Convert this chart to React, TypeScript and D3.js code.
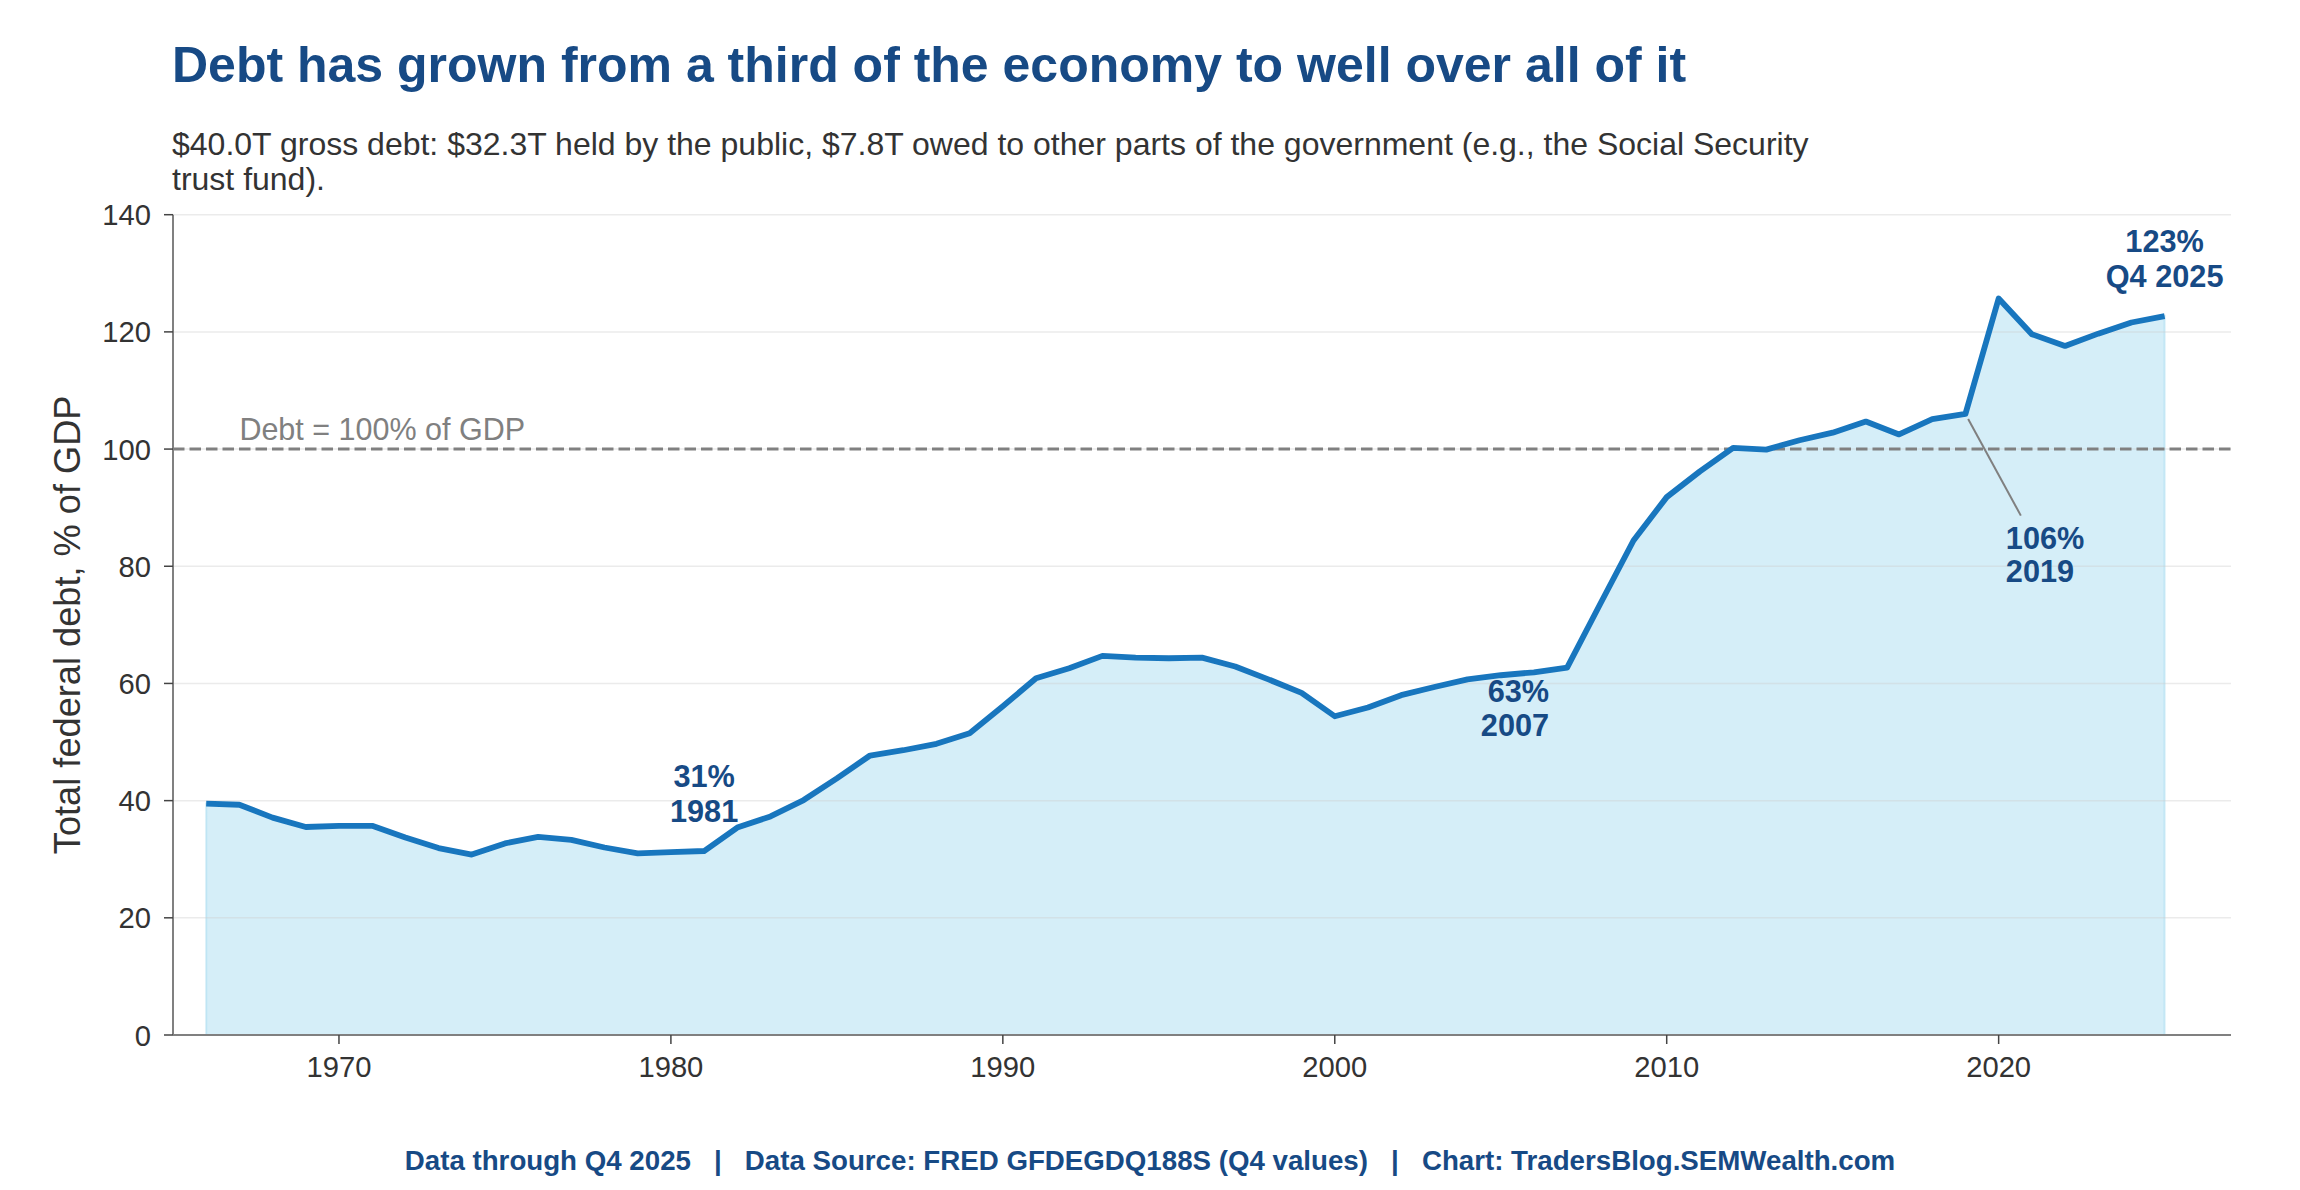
import * as d3 from "d3"

// Q4 values, total federal debt as % of GDP
const years = d3.range(1966, 2026)
const debtPct = [
  39.5, 39.3, 37.1, 35.5, 35.7, 35.7, 33.7, 31.9, 30.8, 32.7,
  33.8, 33.3, 32.0, 31.0, 31.2, 31.4, 35.4, 37.3, 40.1, 43.8,
  47.7, 48.6, 49.7, 51.5, 56.1, 60.9, 62.6, 64.7, 64.4, 64.3,
  64.4, 62.9, 60.7, 58.4, 54.4, 55.9, 58.0, 59.4, 60.7, 61.4,
  61.9, 62.7, 73.6, 84.4, 91.8, 96.2, 100.2, 99.9, 101.5, 102.8,
  104.7, 102.5, 105.1, 106.0, 125.7, 119.6, 117.6, 119.7, 121.6, 122.7,
]
const yTicks = [0, 20, 40, 60, 80, 100, 120, 140]
const xTicks = [1970, 1980, 1990, 2000, 2010, 2020]

// callouts: year, first line, second line, placement
const callouts = [
  { year: 1981, top: "31%", bottom: "1981", place: "above" },
  { year: 2007, top: "63%", bottom: "2007", place: "belowLeft" },
  { year: 2019, top: "106%", bottom: "2019", place: "leader" },
  { year: 2025, top: "123%", bottom: "Q4 2025", place: "above" },
]

const W = 2300
const H = 1190
const FONT = "'Liberation Sans', Arial, sans-serif"
const NAVY = "#174a85"
const LINE = "#1876be"
const CALLOUT_SIZE = 30.7

export default function App() {
  const x = d3.scaleLinear().domain([1965, 2027]).range([173, 2231])
  const y = d3.scaleLinear().domain([0, 140]).range([1035, 214.7])
  const pts = years.map((yr, i) => ({ yr, v: debtPct[i] }))

  const line = d3
    .line<any>()
    .x((d) => x(d.yr))
    .y((d) => y(d.v))
  const area = d3
    .area<any>()
    .x((d) => x(d.yr))
    .y0(y(0))
    .y1((d) => y(d.v))

  const [x0, x1] = x.range()
  const [yb, yt] = y.range()

  return (
    <svg
      width={W}
      height={H}
      viewBox={`0 0 ${W} ${H}`}
      style={{ position: "absolute", left: 0, top: 0, background: "#fff" }}
      fontFamily={FONT}
    >
      <rect width={W} height={H} fill="#fff" />

      {/* title + subtitle */}
      <text x={172} y={81.5} fontSize={50} fontWeight="bold" fill={NAVY}>
        Debt has grown from a third of the economy to well over all of it
      </text>
      <text x={172} y={155} fontSize={32} fill="#333">
        $40.0T gross debt: $32.3T held by the public, $7.8T owed to other parts of the government (e.g., the Social Security
      </text>
      <text x={172} y={189.5} fontSize={32} fill="#333">
        trust fund).
      </text>

      {/* filled area */}
      <path
        d={area(pts) ?? ""}
        fill="#87ceeb"
        fillOpacity={0.35}
        stroke="#87ceeb"
        strokeOpacity={0.35}
        strokeWidth={2}
      />

      {/* horizontal grid */}
      {yTicks.map((t) => (
        <line key={"g" + t} x1={x0} x2={x1} y1={y(t)} y2={y(t)} stroke="#cccccc" strokeOpacity={0.4} strokeWidth={1.5} />
      ))}

      {/* 100% reference */}
      <line x1={x0} x2={x1} y1={y(100)} y2={y(100)} stroke="#808080" strokeWidth={3} strokeDasharray="11.5,5" />
      <text x={x(1967)} y={y(101.6)} fontSize={30.5} fill="#808080">
        Debt = 100% of GDP
      </text>

      {/* main line */}
      <path d={line(pts) ?? ""} fill="none" stroke={LINE} strokeWidth={5.8} strokeLinejoin="round" />

      {/* spines */}
      <line x1={x0} x2={x0} y1={yt} y2={yb} stroke="#808080" strokeWidth={2} />
      <line x1={x0} x2={x1} y1={yb} y2={yb} stroke="#808080" strokeWidth={2} />

      {/* y axis */}
      {yTicks.map((t) => (
        <g key={"y" + t}>
          <line x1={x0 - 9} x2={x0} y1={y(t)} y2={y(t)} stroke="#444" strokeWidth={1.5} />
          <text x={x0 - 22} y={y(t) + 10.5} fontSize={29.2} fill="#333" textAnchor="end">
            {t}
          </text>
        </g>
      ))}
      <text
        transform={`translate(80, ${(yt + yb) / 2}) rotate(-90)`}
        fontSize={36.2}
        fill="#333"
        textAnchor="middle"
      >
        Total federal debt, % of GDP
      </text>

      {/* x axis */}
      {xTicks.map((t) => (
        <g key={"x" + t}>
          <line x1={x(t)} x2={x(t)} y1={yb} y2={yb + 9} stroke="#444" strokeWidth={1.5} />
          <text x={x(t)} y={1077} fontSize={29.2} fill="#333" textAnchor="middle">
            {t}
          </text>
        </g>
      ))}

      {/* callouts */}
      {callouts.map((c) => {
        const v = debtPct[years.indexOf(c.year)]
        const px = x(c.year)
        const py = y(v)
        if (c.place === "above") {
          return (
            <g key={c.year} fontSize={CALLOUT_SIZE} fontWeight="bold" fill={NAVY} textAnchor="middle">
              <text x={px} y={py - 64.5}>{c.top}</text>
              <text x={px} y={py - 29}>{c.bottom}</text>
            </g>
          )
        }
        if (c.place === "belowLeft") {
          return (
            <g key={c.year} fontSize={CALLOUT_SIZE} fontWeight="bold" fill={NAVY} textAnchor="end">
              <text x={px - 18} y={py + 34}>{c.top}</text>
              <text x={px - 18} y={py + 68}>{c.bottom}</text>
            </g>
          )
        }
        return (
          <g key={c.year}>
            <line x1={px + 2.7} y1={py + 5} x2={px + 55.4} y2={py + 101.7} stroke="#808080" strokeWidth={2} />
            <g fontSize={CALLOUT_SIZE} fontWeight="bold" fill={NAVY}>
              <text x={px + 40.4} y={py + 135}>{c.top}</text>
              <text x={px + 40.4} y={py + 168.4}>{c.bottom}</text>
            </g>
          </g>
        )
      })}

      {/* footer */}
      <text
        x={W / 2}
        y={1170}
        fontSize={27.7}
        fontWeight="bold"
        fill={NAVY}
        textAnchor="middle"
        style={{ whiteSpace: "pre" }}
      >
        {"Data through Q4 2025   |   Data Source: FRED GFDEGDQ188S (Q4 values)   |   Chart: TradersBlog.SEMWealth.com"}
      </text>
    </svg>
  )
}
